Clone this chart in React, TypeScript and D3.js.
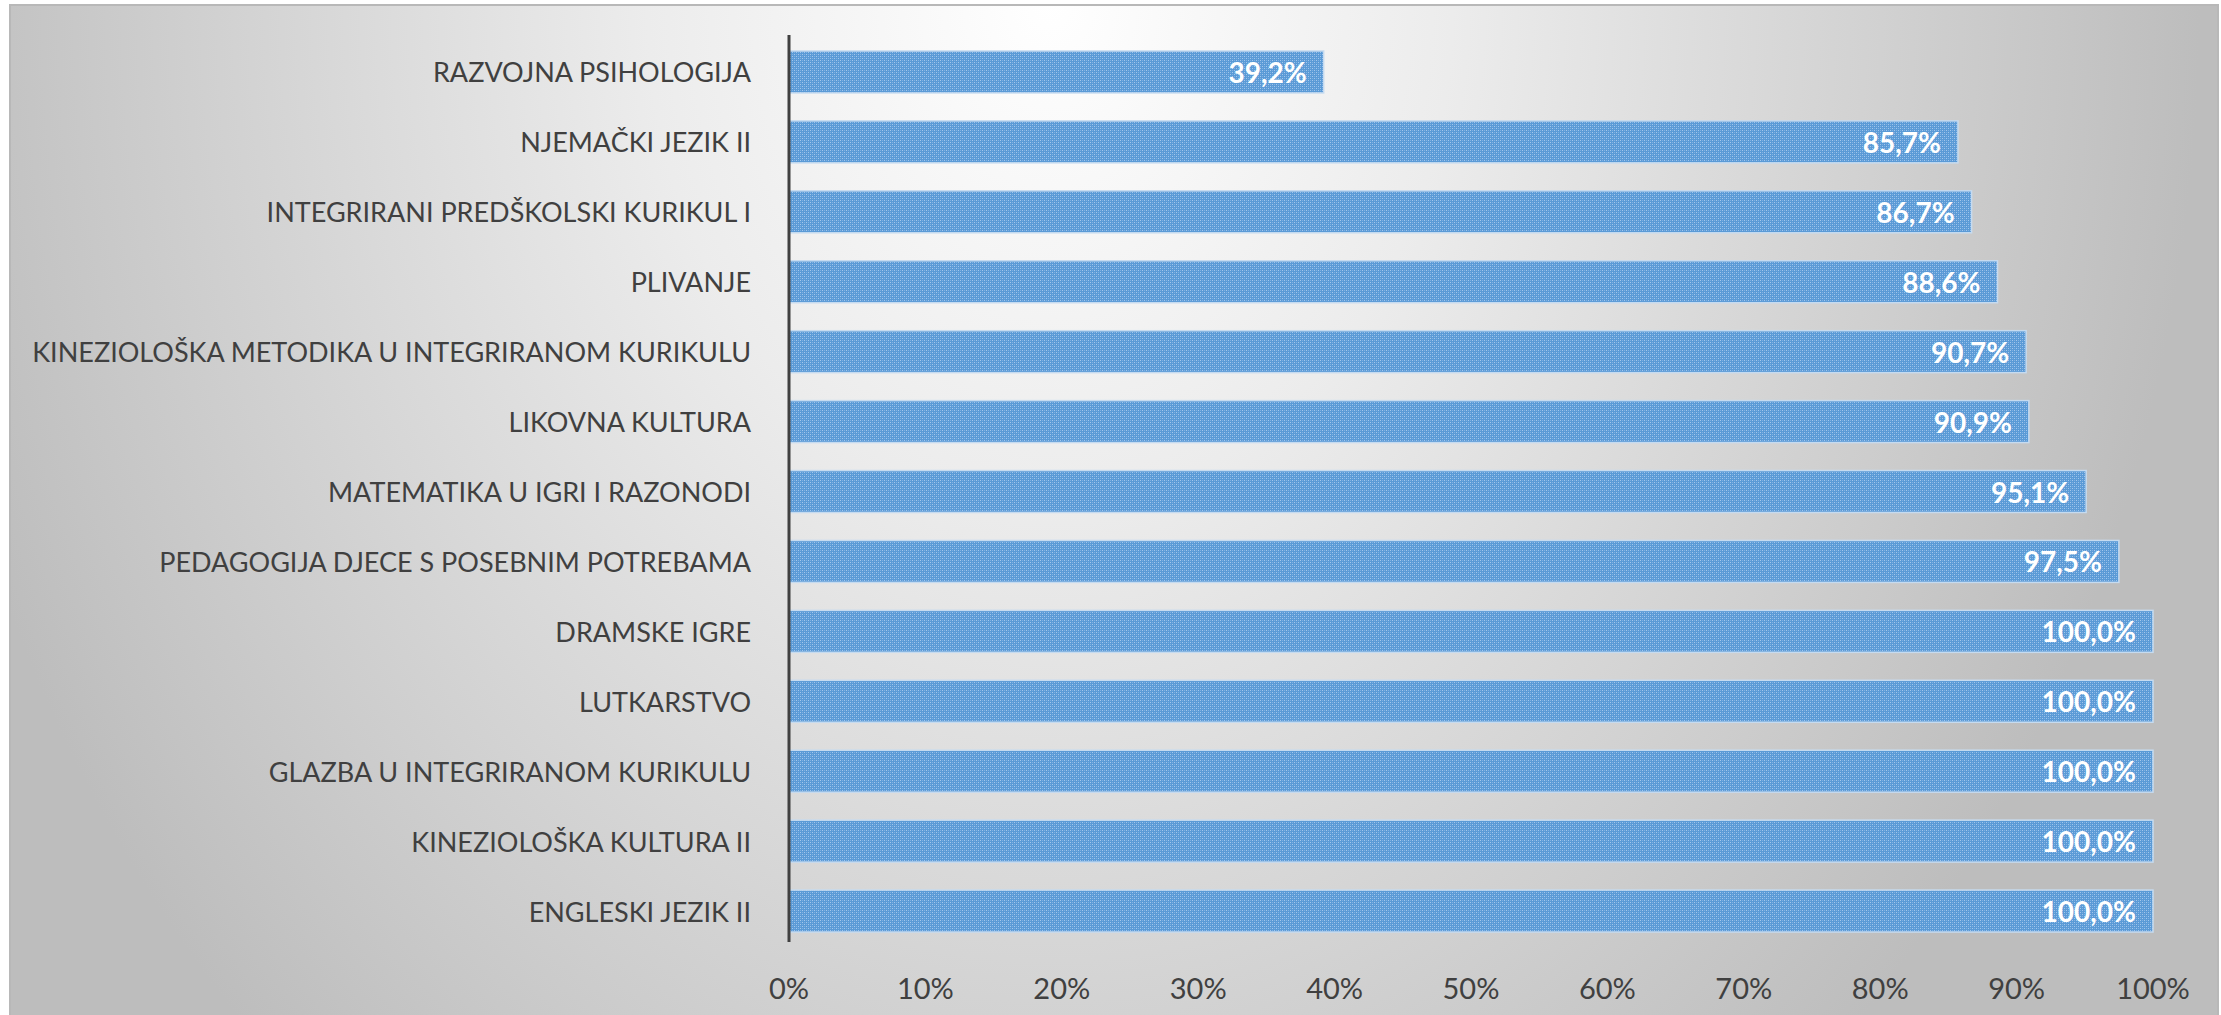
import React, { useEffect } from "react";
import * as d3 from "d3";

const categories = [
  "RAZVOJNA PSIHOLOGIJA",
  "NJEMAČKI JEZIK II",
  "INTEGRIRANI PREDŠKOLSKI KURIKUL I",
  "PLIVANJE",
  "KINEZIOLOŠKA METODIKA U INTEGRIRANOM KURIKULU",
  "LIKOVNA KULTURA",
  "MATEMATIKA U IGRI I RAZONODI",
  "PEDAGOGIJA DJECE S POSEBNIM POTREBAMA",
  "DRAMSKE IGRE",
  "LUTKARSTVO",
  "GLAZBA U INTEGRIRANOM KURIKULU",
  "KINEZIOLOŠKA KULTURA II",
  "ENGLESKI JEZIK II",
];
const values = [39.2, 85.7, 86.7, 88.6, 90.7, 90.9, 95.1, 97.5, 100, 100, 100, 100, 100];
const ticks = [0, 10, 20, 30, 40, 50, 60, 70, 80, 90, 100];

const W = 2221;
const H = 1015;
const FONT = "Lato, 'Open Sans', sans-serif";

export default function App() {
  useEffect(() => {
    document.body.style.margin = "0";
  }, []);

  const x = d3.scaleLinear().domain([0, 100]).range([789, 2153]);
  const y = d3.scaleBand<string>().domain(categories).range([37, 946]).paddingInner(0.4).paddingOuter(0.2);
  const fmt = (v: number) => v.toFixed(1).replace(".", ",") + "%";

  return (
    <svg width={W} height={H} style={{ display: "block" }}>
      <defs>
        <radialGradient id="bg" gradientUnits="userSpaceOnUse" cx={1050} cy={0} r={1150}
          gradientTransform="translate(1050,0) scale(1,1.25) translate(-1050,0)">
          <stop offset="0" stopColor="#ffffff" />
          <stop offset="0.35" stopColor="#ececec" />
          <stop offset="1" stopColor="#bdbdbd" />
        </radialGradient>
        <pattern id="dots" width={4} height={4} patternUnits="userSpaceOnUse">
          <rect width={4} height={4} fill="#5a9ad6" />
          <rect x={0} y={0} width={1} height={1} fill="#a3c7ec" />
          <rect x={2} y={2} width={1} height={1} fill="#a3c7ec" />
          <rect x={2} y={0} width={1} height={1} fill="#7fb0e2" />
          <rect x={0} y={2} width={1} height={1} fill="#7fb0e2" />
        </pattern>
      </defs>
      <rect x={10} y={5} width={2208} height={1012} fill="url(#bg)" stroke="#b8b8b8" strokeWidth={2} />
      {categories.map((c, i) => (
        <g key={c}>
          <rect
            x={x(0)}
            y={y(c)!}
            width={x(values[i]) - x(0)}
            height={y.bandwidth()}
            fill="url(#dots)"
            stroke="#c6dbf0"
            strokeWidth={1.5}
          />
          <text
            x={751}
            y={y(c)! + y.bandwidth() / 2}
            textAnchor="end"
            dominantBaseline="central"
            fontFamily={FONT}
            fontSize={27}
            fill="#404040"
          >
            {c}
          </text>
          <text
            x={x(values[i]) - 17}
            y={y(c)! + y.bandwidth() / 2}
            textAnchor="end"
            dominantBaseline="central"
            fontFamily={FONT}
            fontSize={28}
            fontWeight="bold"
            fill="#ffffff"
          >
            {fmt(values[i])}
          </text>
        </g>
      ))}
      <line x1={x(0)} x2={x(0)} y1={35} y2={942} stroke="#404040" strokeWidth={3} />
      {ticks.map((t) => (
        <text
          key={t}
          x={x(t)}
          y={987}
          textAnchor="middle"
          dominantBaseline="central"
          fontFamily={FONT}
          fontSize={29}
          fill="#404040"
        >
          {t + "%"}
        </text>
      ))}
    </svg>
  );
}
